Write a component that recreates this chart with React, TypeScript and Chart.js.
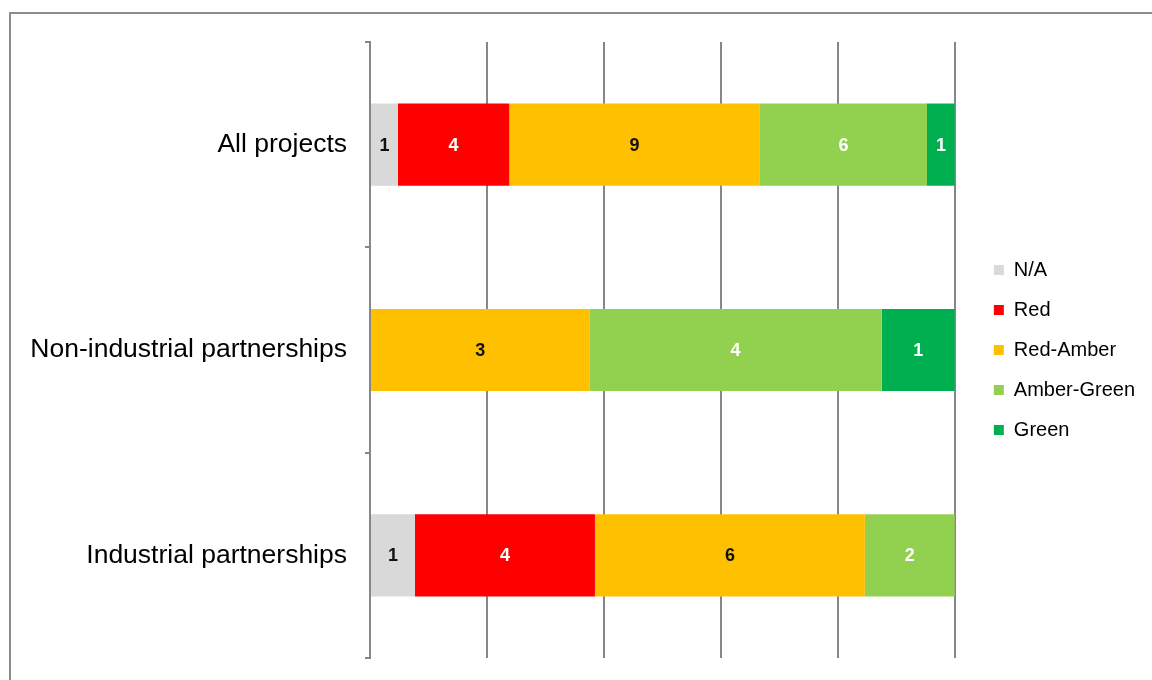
import React, { useEffect, useRef } from "react";
import { Chart, registerables } from "chart.js";

Chart.register(...registerables);

const categories = ["All projects", "Non-industrial partnerships", "Industrial partnerships"];
const seriesNames = ["N/A", "Red", "Red-Amber", "Amber-Green", "Green"];
const naValues = [1, 0, 1];
const redValues = [4, 0, 4];
const redAmberValues = [9, 3, 6];
const amberGreenValues = [6, 4, 2];
const greenValues = [1, 1, 0];
const xTickValues = [0, 20, 40, 60, 80, 100];

const seriesColors = ["#D9D9D9", "#FF0000", "#FFC000", "#92D050", "#00B050"];
const labelColors = ["#111111", "#FFFFFF", "#111111", "#FFFFFF", "#FFFFFF"];

const FONT = "'Liberation Sans', Arial, sans-serif";

export default function App() {
  const ref = useRef<HTMLCanvasElement | null>(null);

  useEffect(() => {
    const canvas = ref.current;
    if (!canvas) return;
    const allSeries = [naValues, redValues, redAmberValues, amberGreenValues, greenValues];
    const totals = categories.map((_, i) => allSeries.reduce((s, arr) => s + arr[i], 0));

    const dataLabels = {
      id: "dataLabels",
      afterDatasetsDraw(chart: any) {
        const ctx = chart.ctx;
        ctx.save();
        ctx.font = `bold 18px ${FONT}`;
        ctx.textAlign = "center";
        ctx.textBaseline = "middle";
        chart.data.datasets.forEach((ds: any, di: number) => {
          const meta = chart.getDatasetMeta(di);
          meta.data.forEach((el: any, i: number) => {
            const v = allSeries[di][i];
            if (!v) return;
            const p = el.getCenterPoint();
            ctx.fillStyle = labelColors[di];
            ctx.fillText(String(v), p.x, p.y + 1);
          });
        });
        ctx.restore();
      },
    };

    const chart = new Chart(canvas, {
      type: "bar",
      data: {
        labels: categories,
        datasets: seriesNames.map((name, si) => ({
          label: name,
          data: allSeries[si].map((v, i) => (v / totals[i]) * 100),
          backgroundColor: seriesColors[si],
          borderWidth: 0,
          barPercentage: 0.4,
          categoryPercentage: 1,
        })),
      },
      options: {
        indexAxis: "y",
        responsive: false,
        animation: false,
        layout: { padding: { left: 0, right: 7, top: 42, bottom: 22 } },
        scales: {
          x: {
            stacked: true,
            min: xTickValues[0],
            max: xTickValues[xTickValues.length - 1],
            afterBuildTicks: (s: any) => {
              s.ticks = xTickValues.map((v) => ({ value: v }));
            },
            afterFit: (s: any) => {
              s.height = 0;
              s.paddingLeft = 0;
              s.paddingRight = 0;
            },
            ticks: { display: false },
            grid: { color: "#878787", lineWidth: 2, drawTicks: false },
            border: { display: false },
          },
          y: {
            stacked: true,
            afterFit: (s: any) => {
              s.width = 370;
              s.paddingTop = 0;
              s.paddingBottom = 0;
            },
            ticks: { font: { size: 26.5, family: FONT }, color: "#000000", padding: 18 },
            grid: {
              drawOnChartArea: false,
              drawTicks: true,
              tickLength: 5,
              color: "#878787",
              lineWidth: 2,
              offset: true,
            },
            border: { display: true, color: "#878787", width: 2 },
          },
          gap: {
            type: "linear",
            position: "right",
            display: true,
            afterFit: (s: any) => {
              s.width = 19;
              s.paddingTop = 0;
              s.paddingBottom = 0;
            },
            ticks: { display: false },
            grid: { display: false },
            border: { display: false },
          },
        },
        plugins: {
          legend: {
            position: "right",
            labels: {
              boxWidth: 10,
              boxHeight: 10,
              padding: 20,
              color: "#000000",
              font: { size: 20, family: FONT },
            },
          },
          tooltip: { enabled: false },
        },
      } as any,
      plugins: [dataLabels],
    });
    return () => chart.destroy();
  }, []);

  return (
    <div
      style={{
        position: "fixed",
        left: 0,
        top: 0,
        width: 1152,
        height: 680,
        overflow: "hidden",
        background: "#ffffff",
      }}
    >
      <canvas ref={ref} width={1152} height={680} style={{ display: "block" }} />
      <div
        style={{
          position: "absolute",
          left: 9,
          top: 12,
          width: 1300,
          height: 800,
          border: "2px solid #8c8c8c",
          pointerEvents: "none",
        }}
      />
    </div>
  );
}
